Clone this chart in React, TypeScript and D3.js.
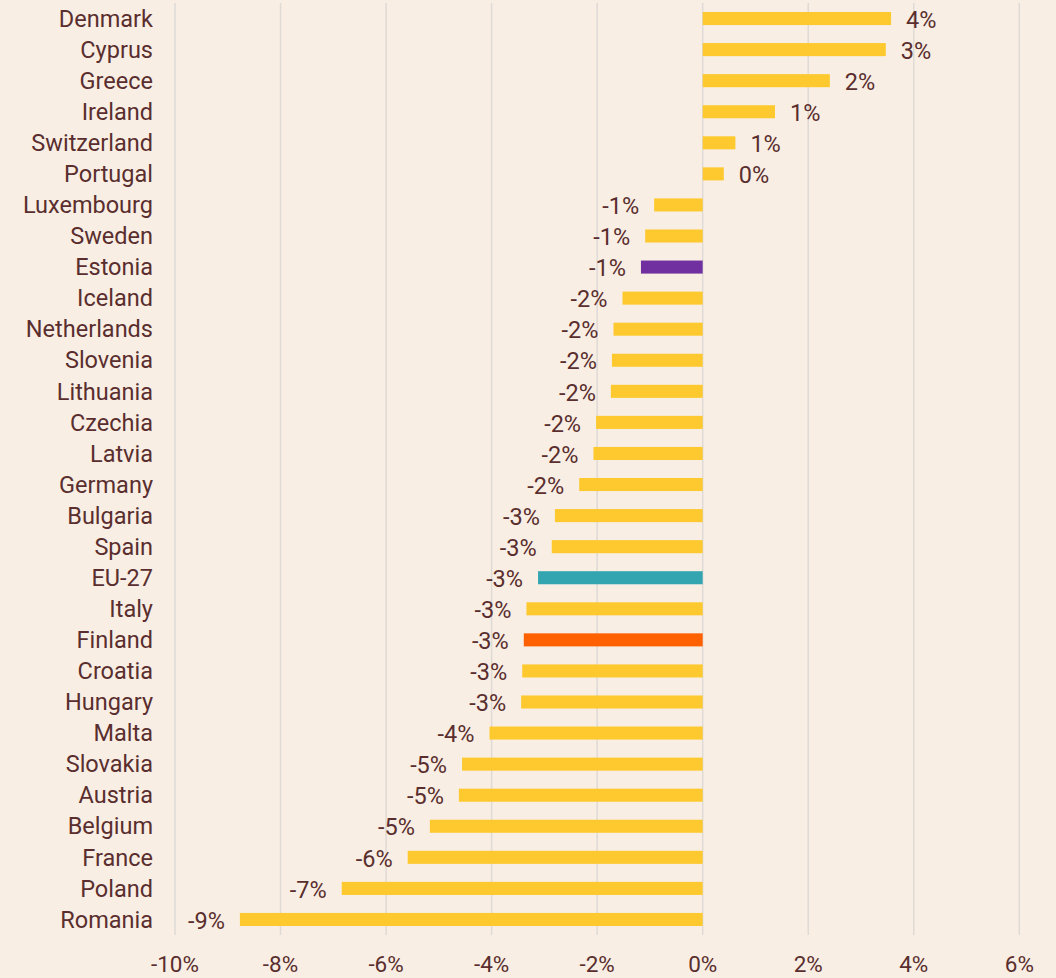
import React from "react";
import * as d3 from "d3";

const countries = [
  "Denmark", "Cyprus", "Greece", "Ireland", "Switzerland", "Portugal",
  "Luxembourg", "Sweden", "Estonia", "Iceland", "Netherlands", "Slovenia",
  "Lithuania", "Czechia", "Latvia", "Germany", "Bulgaria", "Spain", "EU-27",
  "Italy", "Finland", "Croatia", "Hungary", "Malta", "Slovakia", "Austria",
  "Belgium", "France", "Poland", "Romania",
];

const values = [
  3.57, 3.47, 2.41, 1.37, 0.62, 0.4,
  -0.92, -1.09, -1.17, -1.52, -1.69, -1.72,
  -1.74, -2.02, -2.07, -2.34, -2.8, -2.86, -3.12,
  -3.34, -3.39, -3.42, -3.44, -4.04, -4.56, -4.62,
  -5.17, -5.59, -6.84, -8.77,
];

const valueLabels = [
  "4%", "3%", "2%", "1%", "1%", "0%",
  "-1%", "-1%", "-1%", "-2%", "-2%", "-2%",
  "-2%", "-2%", "-2%", "-2%", "-3%", "-3%", "-3%",
  "-3%", "-3%", "-3%", "-3%", "-4%", "-5%", "-5%",
  "-5%", "-6%", "-7%", "-9%",
];

const highlights: Record<string, string> = {
  "Estonia": "#7030a0",
  "EU-27": "#33a5b0",
  "Finland": "#ff6000",
};

const xTicks = [-10, -8, -6, -4, -2, 0, 2, 4, 6];

const W = 1056;
const H = 978;
const BG = "#f9eee4";
const TEXT = "#5a2e2e";
const BAR = "#fdc92e";
const GRID = "#dedad6";
const FONT = "Roboto, 'Noto Sans', sans-serif";
const FS = 23.5;

export default function App() {
  const x = d3.scaleLinear().domain([-10, 6]).range([175, 1019.3]);
  const y = d3
    .scaleBand<string>()
    .domain(countries)
    .range([3, 935])
    .paddingInner(0.58)
    .paddingOuter(0.29);
  const bw = y.bandwidth();

  return (
    <svg
      width={W}
      height={H}
      style={{ position: "absolute", left: 0, top: 0, display: "block" }}
    >
      <rect x={0} y={0} width={W} height={H} fill={BG} />
      {xTicks.map((t) => (
        <line
          key={"g" + t}
          x1={x(t)}
          x2={x(t)}
          y1={3}
          y2={935}
          stroke={GRID}
          strokeWidth={1.5}
        />
      ))}
      {countries.map((c, i) => {
        const v = values[i];
        const yy = y(c)!;
        const x0 = x(Math.min(0, v));
        const x1 = x(Math.max(0, v));
        const cy = yy + bw / 2;
        return (
          <g key={c}>
            <rect
              x={x0}
              y={yy}
              width={x1 - x0}
              height={bw}
              fill={highlights[c] || BAR}
            />
            <text
              x={153}
              y={cy}
              dy="0.35em"
              textAnchor="end"
              fontFamily={FONT}
              fontSize={FS}
              fill={TEXT}
            >
              {c}
            </text>
            <text
              x={v >= 0 ? x(v) + 15 : x(v) - 15}
              y={cy + 1}
              dy="0.35em"
              textAnchor={v >= 0 ? "start" : "end"}
              fontFamily={FONT}
              fontSize={FS}
              fill={TEXT}
            >
              {valueLabels[i]}
            </text>
          </g>
        );
      })}
      {xTicks.map((t) => (
        <text
          key={"t" + t}
          x={x(t)}
          y={964}
          dy="0.35em"
          textAnchor="middle"
          fontFamily={FONT}
          fontSize={22.5}
          fill={TEXT}
        >
          {t + "%"}
        </text>
      ))}
    </svg>
  );
}
